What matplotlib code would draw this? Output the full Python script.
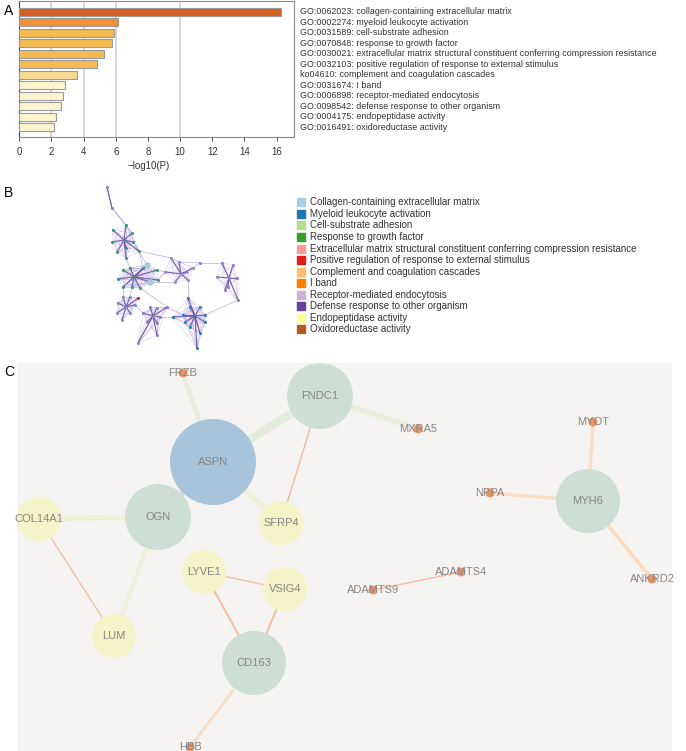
import itertools
import matplotlib.pyplot as plt
from matplotlib import patches

plt.rcParams['font.family'] = ['Liberation Sans', 'DejaVu Sans']

W, H = 686, 751

# ---- panel A data ----
terms = ['GO:0062023: collagen-containing extracellular matrix',
         'GO:0002274: myeloid leukocyte activation',
         'GO:0031589: cell-substrate adhesion',
         'GO:0070848: response to growth factor',
         'GO:0030021: extracellular matrix structural constituent conferring compression resistance',
         'GO:0032103: positive regulation of response to external stimulus',
         'ko04610: complement and coagulation cascades',
         'GO:0031674: I band',
         'GO:0006898: receptor-mediated endocytosis',
         'GO:0098542: defense response to other organism',
         'GO:0004175: endopeptidase activity',
         'GO:0016491: oxidoreductase activity']
logp = [16.28, 6.16, 5.89, 5.75, 5.25, 4.85, 3.57, 2.86, 2.74, 2.57, 2.30, 2.18]
bar_colors = ['#D4601F', '#F0913A', '#F4BB52', '#F4BB52', '#F4BB52', '#F4BB52',
              '#F8D98E', '#FCF5D0', '#FCF5D0', '#FCF5D0', '#FCF5D0', '#FCF5D0']

# ---- panel B data ----
legend_names = ['Collagen-containing extracellular matrix', 'Myeloid leukocyte activation',
                'Cell-substrate adhesion', 'Response to growth factor',
                'Extracellular matrix structural constituent conferring compression resistance',
                'Positive regulation of response to external stimulus',
                'Complement and coagulation cascades', 'I band',
                'Receptor-mediated endocytosis', 'Defense response to other organism',
                'Endopeptidase activity', 'Oxidoreductase activity']
legend_colors = ['#A6CEE3', '#1F78B4', '#B2DF8A', '#33A02C', '#FB9A99', '#E31A1C',
                 '#FDBF6F', '#FF7F00', '#CAB2D6', '#6A3D9A', '#FFFF99', '#B15928']

# clusters of the enrichment network, first node of each is the hub
clusters = [
    [(107, 187), (112, 208)],
    [(124, 240), (126, 225), (113, 230), (112, 242), (132, 233), (133, 242), (117, 252),
     (126, 248), (139, 251), (126, 258)],
    [(134, 277), (123, 270), (118, 279), (130, 268), (143, 268), (147, 265), (150, 282),
     (157, 270), (158, 280), (132, 287), (140, 288), (123, 287)],
    [(181, 274), (171, 258), (179, 262), (165, 272), (175, 282), (188, 280), (193, 268),
     (187, 272)],
    [(229, 278), (222, 263), (233, 265), (217, 277), (237, 278), (228, 287), (238, 300),
     (225, 290)],
    [(195, 316), (188, 298), (190, 307), (200, 307), (183, 315), (205, 315), (185, 322),
     (205, 322), (190, 327), (200, 333), (197, 348), (173, 317)],
    [(126, 307), (123, 297), (130, 297), (118, 303), (135, 305), (117, 313), (130, 313),
     (122, 320), (138, 298)],
    [(153, 316), (150, 307), (157, 308), (143, 313), (160, 317), (147, 322), (157, 323),
     (157, 335), (138, 343), (167, 307)],
    [(200, 263)],
]
cluster_node_color = ['#8F7FC4', '#3A9A7A', '#3A9A7A', '#9C8FCB', '#8F7FC4',
                      '#2F7FBF', '#7F8FC4', '#8F7FC4', '#8F7FC4']
special_nodes = {(147, 265): '#A6CEE3', (150, 282): '#A6CEE3', (138, 298): '#E31A1C',
                 (173, 317): '#1F78B4'}
bridges = [((112, 208), (126, 225)), ((112, 208), (132, 233)), ((107, 187), (112, 208)),
           ((126, 258), (130, 268)), ((139, 251), (143, 268)), ((133, 242), (147, 265)),
           ((139, 251), (171, 258)), ((157, 270), (165, 272)), ((158, 280), (165, 272)),
           ((193, 268), (200, 263)), ((200, 263), (222, 263)), ((188, 280), (188, 298)),
           ((238, 300), (205, 315)), ((123, 287), (123, 297)), ((132, 287), (130, 297)),
           ((135, 305), (143, 313)), ((160, 317), (173, 317)), ((140, 288), (167, 307)),
           ((167, 307), (183, 315)), ((150, 282), (175, 282)), ((179, 262), (200, 263))]

# ---- panel C data ----
genes = ['FRZB', 'FNDC1', 'ASPN', 'OGN', 'COL14A1', 'SFRP4', 'MXRA5', 'MYOT', 'NPPA',
         'MYH6', 'ANKRD2', 'ADAMTS4', 'ADAMTS9', 'LYVE1', 'VSIG4', 'LUM', 'CD163', 'HBB']
gene_x = [183, 320, 213, 158, 39, 281, 418, 593, 490, 588, 652, 461, 373, 204, 285, 114, 254, 190]
gene_y = [373, 396, 462, 517, 519, 523, 429, 422, 493, 501, 579, 572, 590, 572, 589, 636, 663, 747]
gene_r = [4.5, 33, 43, 33, 22, 22, 4.5, 4.5, 4.5, 32, 4.5, 4.5, 4.5, 22, 22, 22, 32, 4.5]
gene_col = ['#EE9566', '#CDDFD4', '#A8C4DA', '#CDDFD4', '#F5F4C9', '#F5F4C9', '#EE9566',
            '#EE9566', '#EE9566', '#CDDFD4', '#EE9566', '#EE9566', '#EE9566', '#F5F4C9',
            '#F5F4C9', '#F5F4C9', '#CDDFD4', '#EE9566']
links = [('FRZB', 'ASPN', 3.5, '#E6EEDF'), ('FNDC1', 'ASPN', 6, '#E3EBDD'),
         ('FNDC1', 'MXRA5', 4, '#E8EFDF'), ('FNDC1', 'SFRP4', 1, '#F7B89A'),
         ('ASPN', 'SFRP4', 4, '#EDF1DA'), ('ASPN', 'OGN', 4, '#CFE0E6'),
         ('OGN', 'COL14A1', 4, '#EFF1DC'), ('OGN', 'LUM', 3, '#EFF1DA'),
         ('COL14A1', 'LUM', 1, '#F7BEA2'), ('LYVE1', 'VSIG4', 1, '#F7BEA2'),
         ('LYVE1', 'CD163', 1.5, '#F7BEA2'), ('VSIG4', 'CD163', 1.5, '#F8C0A0'),
         ('CD163', 'HBB', 2, '#FADFC6'), ('MYOT', 'MYH6', 2.5, '#FADFC6'),
         ('NPPA', 'MYH6', 2.5, '#FADFC6'), ('MYH6', 'ANKRD2', 2.5, '#FADBBE'),
         ('ADAMTS9', 'ADAMTS4', 1, '#F7BEA2')]


def px_axes(fig, x0, y0, x1, y1):
    return fig.add_axes([x0 / W, 1 - y1 / H, (x1 - x0) / W, (y1 - y0) / H])


fig = plt.figure(figsize=(W / 100, H / 100), dpi=100)

# ===== A =====
axA = px_axes(fig, 19.3, 1, 294, 137)
ypos = list(range(len(logp)))
axA.barh(ypos, logp, height=0.77, color=bar_colors, edgecolor='#9A9A9A', linewidth=0.8, zorder=3)
for g in [2, 4, 6, 10]:
    axA.axvline(g, color='#CFCFCF', lw=1.2, zorder=1)
axA.set_xlim(0, 17.08)
axA.set_ylim(11.93, -1.02)
axA.set_yticks([])
axA.set_xticks(range(0, 17, 2))
axA.tick_params(axis='x', labelsize=7, colors='#333333', length=3, width=0.6, pad=4)
for s in axA.spines.values():
    s.set_color('#8A8A8A')
    s.set_linewidth(0.8)
axA.spines['left'].set_color('#444444')
axA.set_xlabel('\u2212log10(P)', fontsize=7, color='#333333')
axA.xaxis.set_label_coords(0.47, -0.18)
for i, t in enumerate(terms):
    fig.text(300 / W, 1 - (11.7 + i * 10.5) / H, t, fontsize=6.4, color='#333333', va='center')

fig.text(4 / W, 1 - 11 / H, 'A', fontsize=10, va='center')
fig.text(4 / W, 1 - 193 / H, 'B', fontsize=10, va='center')
fig.text(4 / W, 1 - 372 / H, 'C', fontsize=10, va='center')

# ===== B =====
axB = px_axes(fig, 0, 175, 290, 355)
axB.set_xlim(0, 290)
axB.set_ylim(355, 175)
axB.axis('off')
for cl in clusters:
    for a, b in itertools.combinations(cl, 2):
        axB.plot([a[0], b[0]], [a[1], b[1]], color='#9C8CCB', lw=0.5, alpha=0.35, zorder=1)
    hub = cl[0]
    for p in cl[1:]:
        axB.plot([hub[0], p[0]], [hub[1], p[1]], color='#5B3A98', lw=0.9, alpha=0.7, zorder=2)
for a, b in bridges:
    axB.plot([a[0], b[0]], [a[1], b[1]], color='#9C8CCB', lw=0.6, alpha=0.6, zorder=1)
for k, cl in enumerate(clusters):
    for p in cl:
        col = special_nodes.get(p, cluster_node_color[k])
        size = 22 if col == '#A6CEE3' else 5
        axB.scatter([p[0]], [p[1]], s=size, color=col, zorder=3, linewidths=0)

for i, (name, col) in enumerate(zip(legend_names, legend_colors)):
    y = 202.3 + i * 11.55
    fig.patches.append(patches.Rectangle((297 / W, 1 - (y + 4) / H), 8 / W, 8 / H,
                                         transform=fig.transFigure, color=col))
    fig.text(310 / W, 1 - y / H, name, fontsize=7, color='#333333', va='center')

# ===== C =====
axC = px_axes(fig, 17, 363, 672, 751)
axC.set_xlim(17, 672)
axC.set_ylim(751, 363)
axC.set_facecolor('#F5F4F2')
axC.set_xticks([])
axC.set_yticks([])
for s in axC.spines.values():
    s.set_visible(False)
idx = {g: i for i, g in enumerate(genes)}
for a, b, w, c in links:
    i, j = idx[a], idx[b]
    axC.plot([gene_x[i], gene_x[j]], [gene_y[i], gene_y[j]], color=c, lw=w,
             solid_capstyle='butt', zorder=1)
for g, x, y, r, c in zip(genes, gene_x, gene_y, gene_r, gene_col):
    axC.add_patch(patches.Circle((x, y), r, color=c, zorder=2, lw=0))
    axC.text(x, y, g, fontsize=8, color='#858585', ha='center', va='center', zorder=3)

fig.savefig('out.png', dpi=100)
